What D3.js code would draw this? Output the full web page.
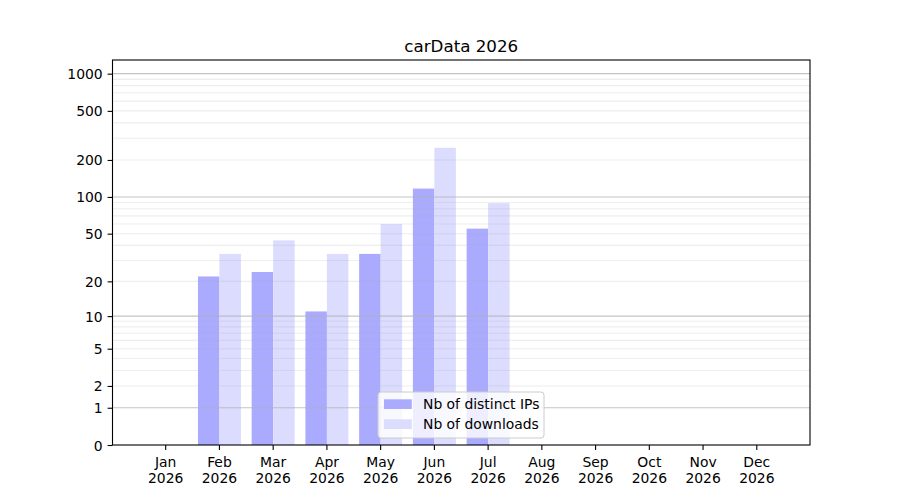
<!DOCTYPE html>
<html lang="en">
<head>
    <meta charset="UTF-8">
    <title>carData 2026</title>
    <style>
        body{ margin:0; background:#fff; }
        svg{ display:block; }
        svg text{ font-family:"DejaVu Sans", sans-serif; }
    </style>
</head>
<body>
    <script src='https://cdnjs.cloudflare.com/ajax/libs/d3/7.4.4/d3.min.js'></script>
    <script>
'use strict';
// données
const mois = ["Jan","Feb","Mar","Apr","May","Jun","Jul","Aug","Sep","Oct","Nov","Dec"];
const annee = "2026";
const nbIPs = [0, 22, 24, 11, 34, 117, 55, 0, 0, 0, 0, 0];
const nbDownloads = [0, 34, 44, 34, 60, 251, 89, 0, 0, 0, 0, 0];
const series = ["Nb of distinct IPs", "Nb of downloads"];
const couleurs = ["#aaaaff", "#dcdcff"];
const yTicks = [0, 1, 2, 5, 10, 20, 50, 100, 200, 500, 1000];
const yMajeurs = [1, 10, 100, 1000];
const yMineurs = [2,3,4,5,6,7,8,9, 20,30,40,50,60,70,80,90, 200,300,400,500,600,700,800,900];
const yMax = 1290;

const W = 900, H = 500;
const L = 112.5, R = 810, T = 60, B = 445;
const fs = 13.9;

const canevas = d3.select("body").append("svg")
  .attr("width", W)
  .attr("height", H);

// échelles
const x = d3.scaleBand()
  .domain(mois)
  .range([L, R])
  .paddingInner(0.2)
  .paddingOuter(0.59);

const xSerie = d3.scaleBand()
  .domain(series)
  .range([0, x.bandwidth()]);

const y = d3.scaleSymlog()
  .constant(1)
  .domain([0, yMax])
  .range([B, T]);

const donnees = mois.map((m, i) => ({mois: m, valeurs: [nbIPs[i], nbDownloads[i]]}));

// barres
const groupes = canevas.append("g").selectAll("g")
  .data(donnees)
  .enter().append("g")
    .attr("transform", d => `translate(${x(d.mois)},0)`);

groupes.selectAll("rect")
  .data(d => d.valeurs.map((v, j) => ({serie: series[j], v: v, j: j})))
  .enter().append("rect")
    .attr("x", d => xSerie(d.serie))
    .attr("width", xSerie.bandwidth())
    .attr("y", d => y(d.v))
    .attr("height", d => B - y(d.v))
    .style("fill", d => couleurs[d.j]);

// grille
const grille = canevas.append("g");
grille.selectAll("line.mineur")
  .data(yMineurs)
  .enter().append("line")
    .attr("class", "mineur")
    .attr("x1", L).attr("x2", R)
    .attr("y1", d => y(d)).attr("y2", d => y(d))
    .style("stroke", "#b0b0b0")
    .style("stroke-opacity", 0.22)
    .style("stroke-width", 1.1);
grille.selectAll("line.majeur")
  .data(yMajeurs)
  .enter().append("line")
    .attr("class", "majeur")
    .attr("x1", L).attr("x2", R)
    .attr("y1", d => y(d)).attr("y2", d => y(d))
    .style("stroke", "#b0b0b0")
    .style("stroke-opacity", 0.75)
    .style("stroke-width", 1.1);

// axe des X
const axeX = canevas.append("g")
  .attr("transform", `translate(0,${B})`)
  .call(d3.axisBottom(x).tickSize(4.9).tickPadding(4.9).tickSizeOuter(0));
axeX.select(".domain").remove();
axeX.selectAll(".tick line").style("stroke", "#000").style("stroke-width", 1.1);
axeX.selectAll(".tick text").each(function(d) {
  const t = d3.select(this).text(null).attr("dy", null)
    .style("font-size", fs + "px").style("fill", "#000");
  t.append("tspan").attr("x", 0).attr("y", 21.5).text(d);
  t.append("tspan").attr("x", 0).attr("y", 37.8).text(annee);
});

// axe des Y
const axeY = canevas.append("g")
  .attr("transform", `translate(${L},0)`)
  .call(d3.axisLeft(y).tickValues(yTicks).tickFormat(d3.format("d"))
    .tickSize(4.9).tickPadding(4.9));
axeY.select(".domain").remove();
axeY.selectAll(".tick line").style("stroke", "#000").style("stroke-width", 1.1);
axeY.selectAll(".tick text")
  .attr("dy", "0.36em")
  .style("font-size", fs + "px").style("fill", "#000");

// cadre
canevas.append("rect")
  .attr("x", L).attr("y", T)
  .attr("width", R - L).attr("height", B - T)
  .style("fill", "none")
  .style("stroke", "#000")
  .style("stroke-width", 1.1);

// titre
canevas.append("text")
  .attr("x", (L + R) / 2)
  .attr("y", 52)
  .attr("text-anchor", "middle")
  .style("font-size", "16.7px")
  .text("carData " + annee);

// légende
const legende = canevas.append("g").attr("transform", "translate(378,392)");
legende.append("rect")
  .attr("width", 166).attr("height", 46)
  .attr("rx", 3).attr("ry", 3)
  .style("fill", "#fff").style("fill-opacity", 0.8)
  .style("stroke", "#cccccc").style("stroke-width", 1);
const entrees = legende.selectAll("g.entree")
  .data(series)
  .enter().append("g")
    .attr("class", "entree")
    .attr("transform", (d, i) => `translate(6,${12 + i * 20})`);
entrees.append("rect")
  .attr("y", -4.7)
  .attr("width", 27.8).attr("height", 9.7)
  .style("fill", (d, i) => couleurs[i]);
entrees.append("text")
  .attr("x", 39)
  .attr("dy", "0.36em")
  .style("font-size", fs + "px")
  .text(d => d);
    </script>
</body>
</html>
